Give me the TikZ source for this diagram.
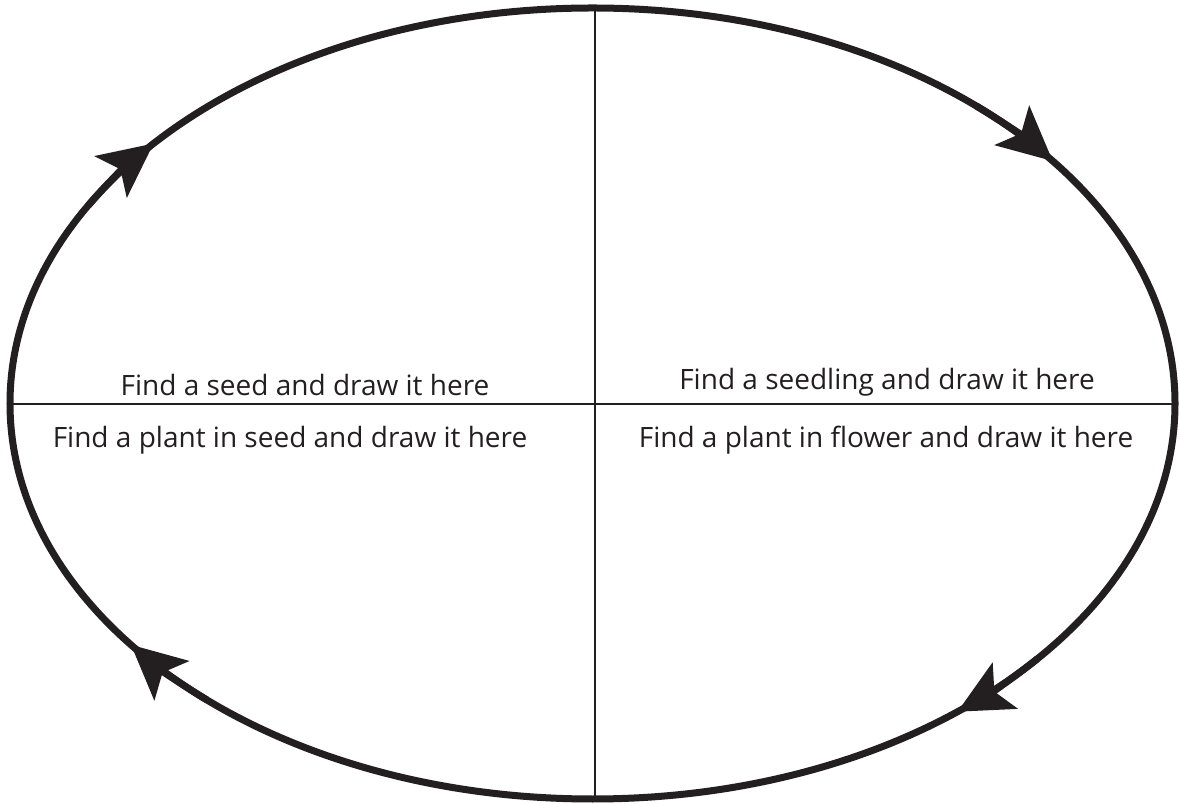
\documentclass[tikz,border=0pt]{standalone}
\usepackage{fontspec}
\setmainfont{Open Sans}
\usetikzlibrary{arrows.meta,calc}
\definecolor{ink}{HTML}{231F20}
\tikzset{
  ring/.style={line width=7pt,ink},
  divider/.style={line width=2pt,ink},
  label/.style={font=\fontsize{28}{30}\selectfont,text=ink,inner sep=0pt}
}
\begin{document}
\begin{tikzpicture}[x=1pt,y=1pt]
\useasboundingbox (0,0) rectangle (1180,803);
\coordinate (c) at (592.5,399.5);
\draw[ring] (c) ellipse[x radius=582.5,y radius=395.5];

\coordinate (top) at (595,795);
\coordinate (bot) at (595,4);
\coordinate (west) at (10,399);
\coordinate (east) at (1175,399);
\draw[divider] (top) -- (bot);
\draw[divider] (west) -- (east);

% arrow heads along the ring, clockwise
\foreach \t in {138.9,37.8,-51.2,-142.4}
  \draw[ring,-{Stealth[length=54pt,width=52pt,inset=12pt]}]
    ($(c)+(\t+11:582.5 and 395.5)$) arc[start angle=\t+11,end angle=\t,x radius=582.5,y radius=395.5];

\node[label] (seed) at (305,418) {Find a seed and draw it here};
\node[label] (seedling) at (887,421) {Find a seedling and draw it here};
\node[label] (inseed) at (290,363) {Find a plant in seed and draw it here};
\node[label] (inflower) at (886,363) {Find a plant in flower and draw it here};
\end{tikzpicture}
\end{document}
